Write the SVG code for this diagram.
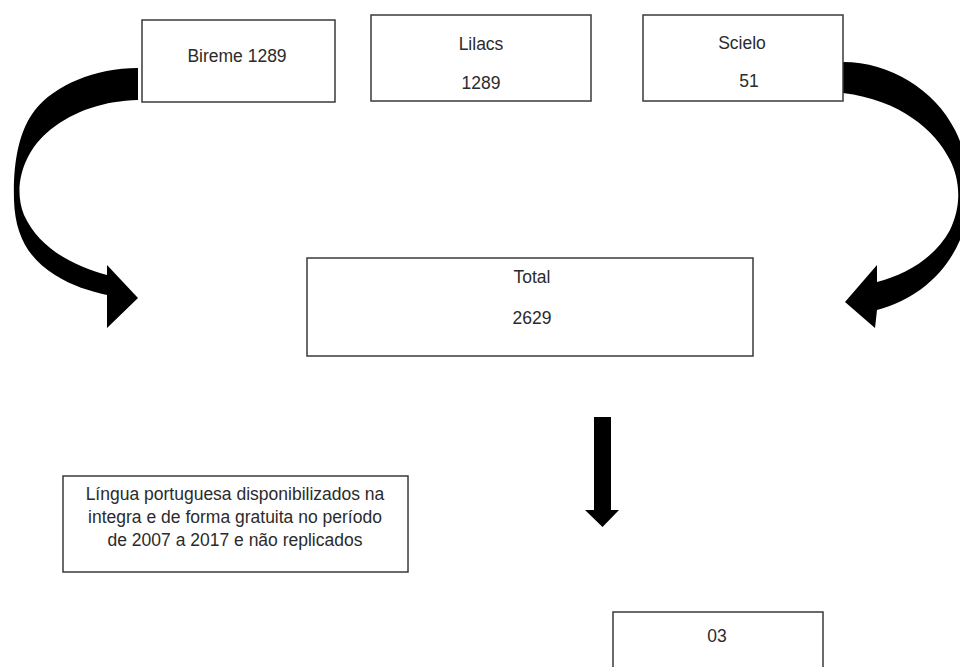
<svg xmlns="http://www.w3.org/2000/svg" width="960" height="667" viewBox="0 0 960 667">
<style>
.box{fill:#fff;stroke:#3a3a3a;stroke-width:1.5}
.t{font-family:"Liberation Sans",Arial,sans-serif;font-size:17.5px;fill:#2b2b2b;text-anchor:middle}
.arr{fill:#000}
</style>
<rect width="960" height="667" fill="#fff"/>
<g id="connectors">
<path class="arr" d="M138,68 C95,68 55,85 35,110 C18,132 13,165 14,200 C15,235 28,258 55,275 C72,286 90,291 107,295 L107,328 L138,298 L107,265 L107,275 C75,266 40,250 24,215 C12,185 25,150 50,130 C75,110 105,101 138,100 Z"/>
<path class="arr" d="M843,62 C890,62 935,90 955,130 C975,170 972,215 960,240 C945,275 915,300 877,310 L875,328 L845,302 L877,265 L877,282 C905,275 935,258 950,230 C962,205 960,180 950,160 C935,130 900,100 843,93 Z"/>
<polygon class="arr" points="594,417 611,417 611,510 619,510 602.5,527 585,510 594,510"/>
</g>
<g id="bireme">
<rect class="box" x="142" y="20" width="193" height="82"/>
<text class="t" x="237" y="62">Bireme 1289</text>
</g>
<g id="lilacs">
<rect class="box" x="371" y="15" width="220" height="86"/>
<text class="t" x="481" y="50">Lilacs</text>
<text class="t" x="481" y="89">1289</text>
</g>
<g id="scielo">
<rect class="box" x="643" y="15" width="200" height="86"/>
<text class="t" x="742" y="49">Scielo</text>
<text class="t" x="749" y="87">51</text>
</g>
<g id="total">
<rect class="box" x="307" y="258" width="446" height="98"/>
<text class="t" x="532" y="283">Total</text>
<text class="t" x="532" y="324">2629</text>
</g>
<g id="criterios">
<rect class="box" x="63" y="476" width="345" height="96"/>
<text class="t" x="235" y="500">Língua portuguesa disponibilizados na</text>
<text class="t" x="235" y="523">integra e de forma gratuita no período</text>
<text class="t" x="235" y="546">de 2007 a 2017 e não replicados</text>
</g>
<g id="resultado">
<rect class="box" x="613" y="612" width="210" height="70"/>
<text class="t" x="717" y="642">03</text>
</g>
</svg>
